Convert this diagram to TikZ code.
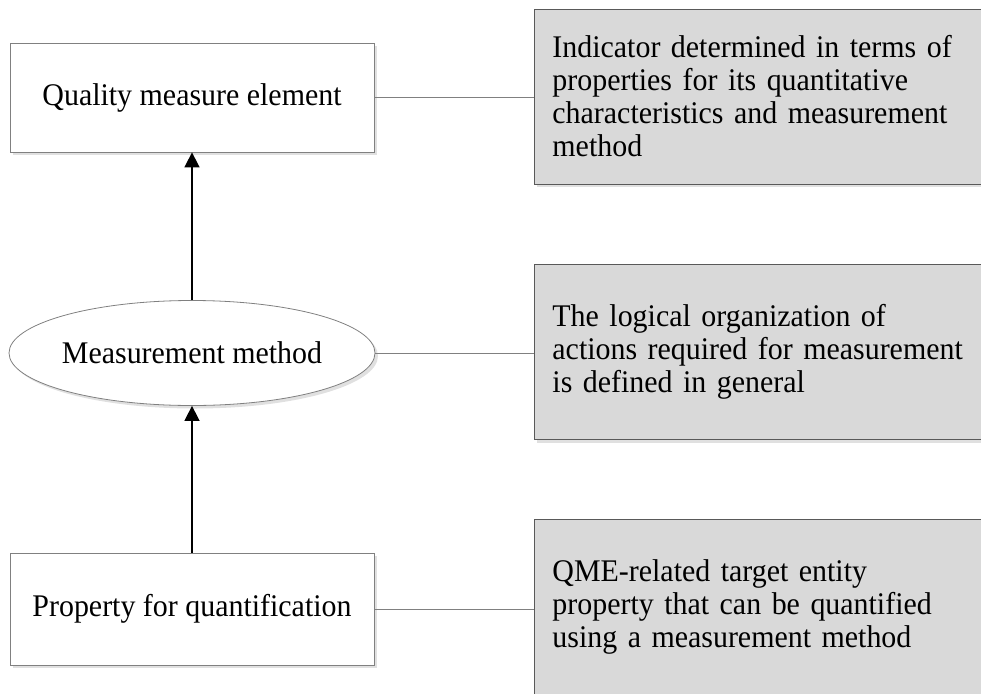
\documentclass[tikz,border=0pt]{standalone}
\usepackage{fontspec}
\setmainfont{Liberation Serif}[FakeStretch=0.95]
\usepackage{tikz}
\usetikzlibrary{shapes.geometric, arrows.meta, shadows}

\begin{document}
\begin{tikzpicture}[x=1pt, y=-1pt]
  \tikzstyle{txt}=[font=\fontsize{31.5}{33}\selectfont]
  \tikzstyle{shade}=[drop shadow={shadow xshift=3pt, shadow yshift=-3pt, fill=black!12, opacity=1}]
  \tikzstyle{leftbox}=[txt, shade, rectangle, draw=black!50, line width=0.8pt, fill=white, minimum width=364pt, inner sep=0pt]
  \tikzstyle{oval}=[shade, ellipse, draw=black!50, line width=0.8pt, fill=white, minimum width=366pt, minimum height=105pt, inner sep=0pt]
  \tikzstyle{note}=[txt, shade, rectangle, draw=black!65, line width=0.9pt, fill=black!15, anchor=west, align=left, text width=440pt, inner xsep=18pt, minimum height=175pt]
  \tikzstyle{link}=[draw=black!50, line width=0.8pt]
  \tikzstyle{up}=[-{Triangle[length=15pt, width=15pt]}, line width=1.6pt]

  \useasboundingbox (0,0) rectangle (981,693);
  \clip (0,0) rectangle (981,693);

  \node[leftbox, minimum height=109pt] (L_1) at (192,97.5) {Quality measure element};
  \node[oval, label={center:\fontsize{31.5}{33}\selectfont Measurement method}] (L_2) at (192,353) {};
  \node[leftbox, minimum height=112pt] (L_3) at (192,609) {Property for quantification};

  \node[note] (R_1) at (534,96.5) {Indicator determined in terms of\\properties for its quantitative\\characteristics and measurement\\method};
  \node[note] (R_2) at (534,352) {The logical organization of\\actions required for measurement\\is defined in general};
  \node[note] (R_3) at (534,606.5) {QME-related target entity\\property that can be quantified\\using a measurement method};

  \draw[link] (L_1.east) -- (L_1.east -| R_1.west);
  \draw[link] (L_2.east) -- (L_2.east -| R_2.west);
  \draw[link] (L_3.east) -- (L_3.east -| R_3.west);

  \draw[up] (L_2.north) -- (L_1.south);
  \draw[up] (L_3.north) -- (L_2.south);
\end{tikzpicture}
\end{document}
